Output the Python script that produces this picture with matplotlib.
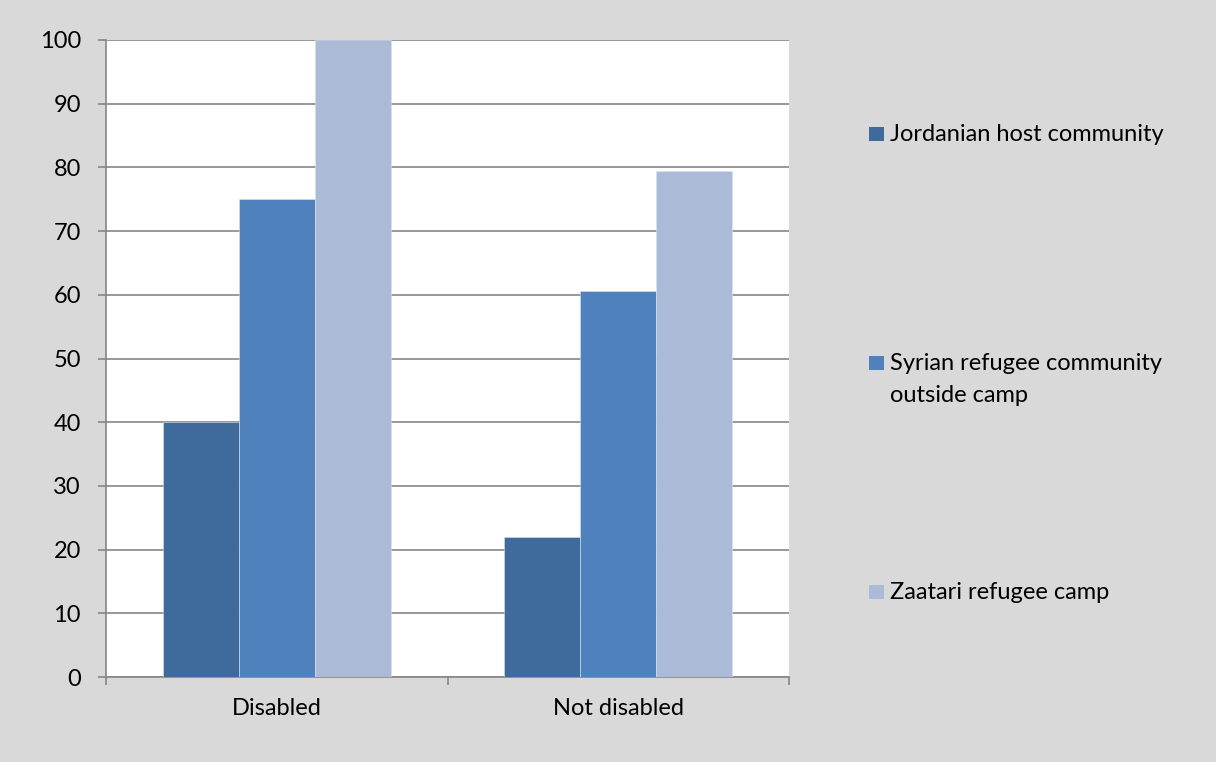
import numpy as np
import matplotlib
matplotlib.use("Agg")
from matplotlib import pyplot as plt
from matplotlib.patches import Rectangle

categories = ["Disabled", "Not disabled"]
series_names = ["Jordanian host community",
                "Syrian refugee community\noutside camp",
                "Zaatari refugee camp"]
jordanian = [40, 22]
syrian = [75, 60.6]
zaatari = [100, 79.4]
series_values = [jordanian, syrian, zaatari]
colors = ["#3f6a9c", "#4f81bd", "#aabad7"]
y_ticks = list(range(0, 101, 10))

plt.rcParams['font.family'] = ['Lato', 'DejaVu Sans']

bg = "#d9d9d9"
grid_col = "#868686"
fs = 17

fig = plt.figure(figsize=(12.16, 7.62), dpi=100, facecolor=bg)
ax = fig.add_axes([106 / 1216, 85 / 762, 683 / 1216, 637 / 762])
ax.set_facecolor("white")

x = np.arange(len(categories))
width = 2 / 9
for i, (vals, col) in enumerate(zip(series_values, colors)):
    ax.bar(x + (i - 1) * width, vals, width, color=col, zorder=3,
           edgecolor="#dbe3ee", linewidth=0.4)

ax.set_xlim(-0.5, len(categories) - 0.5)
ax.set_ylim(0, 100)
ax.set_yticks(y_ticks)
ax.yaxis.grid(True, color=grid_col, linewidth=1.2, zorder=0)
ax.set_xticks(x)
ax.set_xticklabels(categories)
ax.set_xticks(np.arange(-0.5, len(categories), 1.0), minor=True)
ax.tick_params(axis='x', which='major', length=0, pad=15, labelsize=fs)
ax.tick_params(axis='x', which='minor', length=6, color=grid_col, width=1.2)
ax.tick_params(axis='y', length=6, color=grid_col, width=1.2, pad=12,
               labelsize=fs)

for s in ["top", "right"]:
    ax.spines[s].set_visible(False)
for s in ["left", "bottom"]:
    ax.spines[s].set_color(grid_col)
    ax.spines[s].set_linewidth(1.2)

# legend drawn by hand so the marker sits on the first text line
legend_baseline = [141, 370, 599]
line_step = 32
for name, col, yy in zip(series_names, colors, legend_baseline):
    yf = 1 - yy / 762
    fig.patches.append(Rectangle((869 / 1216, yf), 15 / 1216, 14 / 762,
                                 transform=fig.transFigure, facecolor=col,
                                 edgecolor="none"))
    for k, line in enumerate(name.split("\n")):
        fig.text(890 / 1216, 1 - (yy + k * line_step) / 762, line,
                 fontsize=fs, va="baseline", ha="left")

fig.savefig("out.png", dpi=100, facecolor=bg)
